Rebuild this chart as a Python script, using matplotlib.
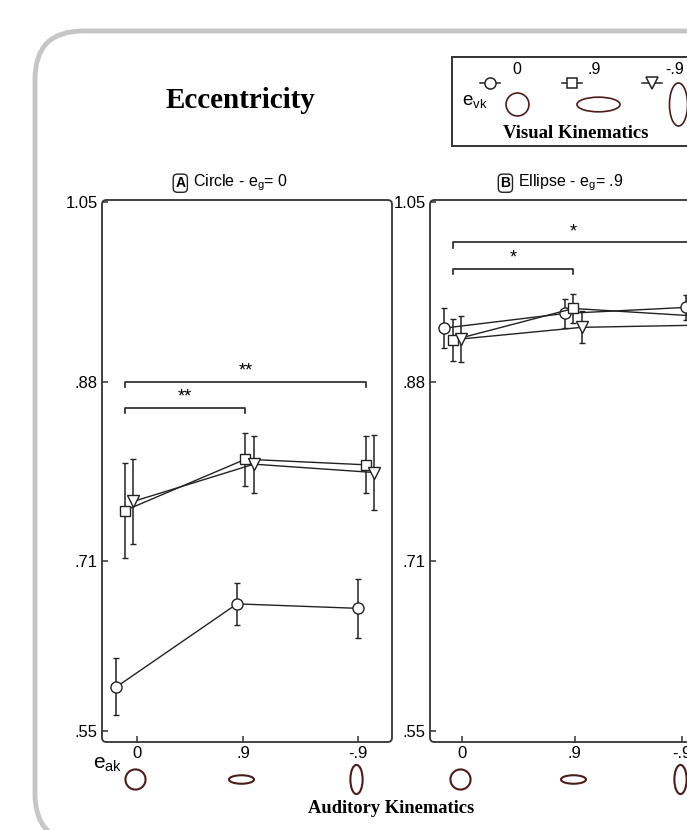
import numpy as np
import matplotlib
matplotlib.use("Agg")
import matplotlib.pyplot as plt
from matplotlib.patches import FancyBboxPatch
from matplotlib.path import Path
from matplotlib.transforms import Affine2D, blended_transform_factory

plt.rcParams['font.family'] = ['Liberation Sans', 'DejaVu Sans']
plt.rcParams['mathtext.default'] = 'regular'

# data -------------------------------------------------------------------
ecc_labels = ['0', '.9', '-.9']
ytick_vals = [0.55, 0.71, 0.88, 1.05]
ytick_labels = ['.55', '.71', '.88', '1.05']

# panel A : circle (e_g = 0)
a_circle = [0.5915, 0.6699, 0.6657]
a_circle_err = [0.027, 0.020, 0.028]
a_square = [0.7581, 0.8066, 0.8013]
a_square_err = [0.045, 0.025, 0.027]
a_tri = [0.7667, 0.8019, 0.7940]
a_tri_err = [0.040, 0.027, 0.035]

# panel B : ellipse (e_g = .9)
b_circle = [0.9305, 0.9443, 0.9500]
b_circle_err = [0.019, 0.014, 0.012]
b_square = [0.9192, 0.9490, 0.9420]
b_square_err = [0.020, 0.014, 0.015]
b_tri = [0.9202, 0.9312, 0.9333]
b_tri_err = [0.022, 0.015, 0.015]

# significance brackets: (from, to, height, label)
a_sig = [(0, 1, 0.855, '**'), (0, 2, 0.880, '**')]
b_sig = [(0, 1, 0.9866, '*'), (0, 2, 1.0116, '*')]

W, H = 687, 830
fig = plt.figure(figsize=(W / 100, H / 100), dpi=100)

# pixel overlay for decoration
over = fig.add_axes([0, 0, 1, 1], zorder=0)
over.set_xlim(0, W)
over.set_ylim(H, 0)
over.axis('off')

over.add_patch(FancyBboxPatch((35, 31), 760, 811,
                              boxstyle='round,pad=0,rounding_size=48',
                              fc='white', ec='#c6c6c6', lw=3.5))

over.text(240, 100, 'Eccentricity', family='Liberation Serif',
          weight='bold', fontsize=21, ha='center', va='center')

ink = '#222222'
brown = '#4a1c1c'


def ellipse_marker(rx, ry):
    circ = Path.unit_circle()
    return circ.transformed(Affine2D().scale(rx, ry))


# shape of the ellipse icons and their sizes (legend / under the axis)
ell_shapes = [(1.0, 1.0), (1.0, 0.34), (0.42, 1.0)]
leg_ell_ms = [16.5, 31, 31]
ax_ell_ms = [14.5, 18, 21]

# legend box
over.add_patch(FancyBboxPatch((452, 57), 300, 89, boxstyle='square,pad=0',
                              fc='white', ec='#333333', lw=1.4))
over.text(462, 101, '$e_{vk}$', fontsize=13.5, ha='left', va='center')
leg_x = [490, 572, 652]
leg_lab_x = [517, 594, 675]
leg_ell_x = [517, 598, 678]
markers = ['o', 's', 'v']
msizes = [8, 6.5, 8]
for i in range(3):
    over.plot([leg_x[i] - 10, leg_x[i] + 10], [83, 83], color=ink, lw=1.1)
    over.plot(leg_x[i], 83, marker=markers[i], ms=msizes[i], mfc='white',
              mec=ink, mew=1.1)
    over.text(leg_lab_x[i], 70, ecc_labels[i], fontsize=11.5, ha='center',
              va='center')
    over.plot(leg_ell_x[i], 104, marker=ellipse_marker(*ell_shapes[i]),
              ms=leg_ell_ms[i], mfc='none', mec=brown, mew=1.2,
              clip_on=False)
over.text(576, 133, 'Visual Kinematics', family='Liberation Serif',
          weight='bold', fontsize=13.5, ha='center', va='center')

over.text(93, 764, '$e_{ak}$', fontsize=15, ha='left', va='center')
over.text(391, 808, 'Auditory Kinematics', family='Liberation Serif',
          weight='bold', fontsize=13.3, ha='center', va='center')

panels = [
    dict(left=102, title='A', sub='Circle - $e_g$= 0',
         data=[(a_circle, a_circle_err), (a_square, a_square_err),
               (a_tri, a_tri_err)],
         sig=a_sig, ticks=[0.10, 0.98, 1.93], tx=0.27),
    dict(left=430, title='B', sub='Ellipse - $e_g$= .9',
         data=[(b_circle, b_circle_err), (b_square, b_square_err),
               (b_tri, b_tri_err)],
         sig=b_sig, ticks=[0.075, 1.01, 1.9], tx=0.26),
]

offsets = [-0.07, 0.0, 0.07]
pw, top, bot = 290, 200, 742
x = np.arange(3)

for p in panels:
    ax = fig.add_axes([p['left'] / W, 1 - bot / H, pw / W, (bot - top) / H],
                      zorder=1)
    ax.set_facecolor('none')
    ax.set_xlim(-0.19, 2.216)
    ax.set_ylim(0.5394, 1.0515)
    for sp in ax.spines.values():
        sp.set_visible(False)
    ax.add_patch(FancyBboxPatch((0, 0), 1, 1, transform=ax.transAxes,
                                boxstyle='round,pad=0,rounding_size=0.015',
                                mutation_aspect=pw / (bot - top),
                                fc='none', ec='#333333', lw=1.3,
                                clip_on=False))
    for k, (vals, errs) in enumerate(p['data']):
        ax.errorbar(x + offsets[k], vals, yerr=errs, color=ink, lw=1.0,
                    elinewidth=1.1, capsize=2.5, capthick=1.1,
                    marker=markers[k], ms=msizes[k], mfc='white', mec=ink,
                    mew=1.0, clip_on=False)
    for x0, x1, h, lab in p['sig']:
        ax.plot([x0, x0, x1, x1], [h - 0.005, h, h, h - 0.005], color=ink,
                lw=1.2, clip_on=False)
        ax.text((x0 + x1) / 2, h + 0.002, lab, fontsize=13, ha='center',
                va='bottom')
    ax.set_yticks(ytick_vals)
    ax.set_yticklabels(ytick_labels)
    ax.set_xticks(p['ticks'])
    ax.set_xticklabels(ecc_labels)
    ax.tick_params(direction='in', length=4, width=1.1, colors='#333333',
                   labelcolor='black', labelsize=12, pad=3)
    # ellipses under tick labels
    tr = blended_transform_factory(ax.transData, ax.transAxes)
    for i in range(3):
        ax.plot(p['ticks'][i] - 0.015, -0.069,
                marker=ellipse_marker(*ell_shapes[i]), transform=tr,
                ms=ax_ell_ms[i], mfc='none', mec=brown, mew=1.5,
                clip_on=False)
    # panel title
    ax.text(p['tx'], 1.031, p['title'], transform=ax.transAxes, fontsize=10,
            weight='bold', ha='center', va='center',
            bbox=dict(boxstyle='round,pad=0.15,rounding_size=0.3', fc='white',
                      ec='#222222', lw=1.0))
    ax.text(p['tx'] + 0.045, 1.031, p['sub'], transform=ax.transAxes,
            fontsize=11.5, ha='left', va='center')

fig.savefig('out.png', dpi=100)
